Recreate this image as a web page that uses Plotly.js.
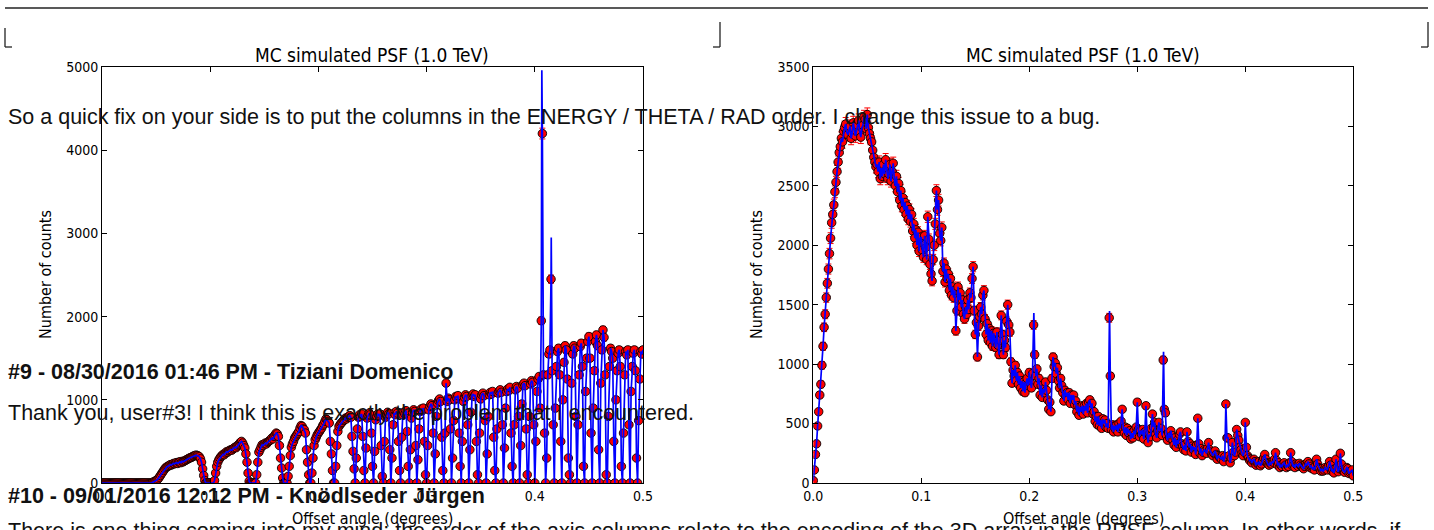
<!DOCTYPE html>
<html>
<head>
<meta charset="utf-8">
<script src="https://cdn.plot.ly/plotly-3.0.1.min.js"></script>
<style>
  html, body { margin: 0; padding: 0; background: #ffffff; }
  #chart { width: 1434px; height: 530px; }
</style>
</head>
<body>
<div id="chart"></div>
<script>
// ---------------- DATA ----------------
// Left panel: counts per offset bin (bin width 0.001 deg, starting at 0)
const LEFT_X0 = 0, LEFT_DX = 0.001;
const leftCounts = [
  0,0,0,0,0,0,0,0,0,0, 0,0,0,0,0,0,0,0,0,0, 0,0,0,0,0,0,0,0,0,0, 0,0,0,0,0,0,0,0,0,0, 0,0,0,0,0,0,0,
  10,15,20,30,40,50,70,90,110,130,
  150,170,185,195,200,210,220,215,225,235,
  230,240,245,235,250,255,245,260,255,265,
  270,280,285,295,300,305,310,320,325,330,
  335,330,325,315,290,250,170,90,30,
  0,0,0,0,0,0,0,0,
  30,120,200,250,280,300,320,330,345,340,
  360,375,370,385,390,400,395,410,420,430,
  425,445,460,470,490,500,480,450,420,350,
  250,120,20,
  0,0,0,0,0,0,
  100,250,370,400,430,460,450,470,480,470,
  490,500,510,520,540,530,560,580,600,590,
  560,450,300,180,60,
  0,0,0,0,
  80,200,330,430,470,500,540,560,580,600,
  620,660,690,680,650,640,600,400,250,100,
  0,
  0,120,300,450,520,550,580,600,620,640,
  660,690,710,740,770,760,740,720,500,350,
  150,0,
  0,200,450,620,680,700,720,730,750,760,
  780,770,790,800,810,790,560,380,170,0,
  300,650,790,820,800,830,560,150,
  0,420,780,810,840,820,600,200,
  0,380,760,800,830,810,830,450,
  80,0,500,790,820,850,830,400,
  0,300,700,840,820,860,840,500,
  150,0,550,820,850,830,870,620,
  200,0,400,780,850,880,860,450,
  0,280,650,860,890,870,900,500,
  100,0,450,880,920,950,930,600,
  0,350,800,960,990,1010,980,550,
  150,0,600,1200,980,1020,1000,650,
  0,300,750,1000,1040,1020,1050,600,
  200,0,500,980,1030,1060,1040,700,
  0,400,850,1050,1070,1040,1060,500,
  100,0,600,1010,1060,1080,1050,750,
  0,350,800,1060,1090,1070,1100,550,
  150,0,650,1080,1100,1120,1090,700,
  0,420,900,1100,1130,1110,1150,600,
  200,0,700,1120,1160,1140,800,
  0,450,950,1180,1200,1170,650,
  100,0,800,1190,1230,1210,700,
  0,500,1100,1250,1280,900,
  1950,4200,1300,600,0,
  300,1300,1550,1600,2450,1350,700,
  0,900,1400,1580,1620,1300,500,
  0,1000,1450,1650,1600,1250,300,
  100,0,1200,1550,1650,1620,800,
  0,700,1300,1640,1680,1400,200,
  0,1100,1500,1700,1760,1500,600,
  0,900,1350,1700,1780,1650,400,
  0,1200,1600,1840,1750,1300,100,
  0,800,1400,1620,1580,1500,500,
  0,1000,1350,1560,1600,1400,200,
  0,600,1300,1580,1540,1600,700,
  0,1100,1400,1560,1600,1350,300,
  0,750,1250,1580,1550,1600
];
// extra points of the blue curve (finer sampling at the spikes)
const leftCurvePeakX = [0.4065, 0.4152];
const leftCurvePeakY = [4960, 2950];

// Right panel: counts per offset bin (bin width 0.001 deg, starting at 0)
const RIGHT_X0 = 0, RIGHT_DX = 0.001;
const rightCounts = [
  20,110,240,330,480,600,740,830,990,1150,
  1310,1420,1560,1680,1800,1930,2060,2190,2260,2340,
  2450,2530,2620,2700,2780,2830,2900,2870,2960,2990,
  3020,2950,2930,2980,3000,2900,2940,3030,2980,2920,
  2960,3010,3050,2950,2910,2990,3010,3080,3060,2980,
  3100,2990,2940,2900,2870,2800,2740,2700,2660,2680,
  2620,2700,2560,2650,2580,2680,2600,2720,2640,2560,
  2600,2680,2540,2620,2690,2560,2500,2580,2450,2520,
  2380,2460,2330,2400,2300,2360,2260,2330,2220,2300,
  2200,2260,2120,2180,2060,2130,2000,2110,1950,2060,
  2070,1960,1900,2080,1980,1880,2240,2050,1840,1760,
  1700,1880,2000,2180,2460,2300,2380,2100,2040,2150,
  1780,1850,1690,1800,1720,1760,1620,1720,1580,1650,
  1560,1620,1280,1450,1650,1540,1600,1480,1540,1420,
  1380,1480,1420,1540,1460,1600,1560,1720,1820,1450,
  1250,1350,1060,1320,1400,1480,1420,1580,1620,1380,
  1250,1340,1200,1300,1180,1280,1150,1260,1190,1140,
  1270,1160,1080,1200,1410,1250,1080,1200,1140,1360,
  1500,1330,1270,1020,840,950,900,990,860,930,
  830,900,800,860,770,850,760,840,880,820,
  930,840,800,920,1330,1080,900,960,830,880,
  740,820,720,790,760,850,780,700,620,680,
  600,880,1060,980,1010,920,970,860,800,880,
  820,760,690,780,730,760,700,760,670,740,
  700,740,660,690,600,650,570,640,600,650,
  580,650,610,670,590,680,700,630,670,580,
  600,520,560,490,560,480,530,460,540,500,
  530,470,500,460,1390,900,450,490,430,480,
  450,490,430,500,460,520,620,460,420,470,
  400,460,420,440,370,420,380,440,410,470,
  680,450,390,440,410,450,370,430,650,420,
  340,410,390,460,580,470,510,410,380,440,
  510,440,460,400,1035,620,590,400,360,420,
  380,440,400,360,320,380,300,360,330,410,
  430,330,310,280,320,270,430,350,300,330,
  260,310,280,300,240,320,545,330,250,290,
  230,260,280,270,250,290,340,280,260,240,
  230,250,270,240,200,230,220,210,200,230,
  180,220,665,380,380,230,170,210,340,260,
  230,260,450,400,360,300,280,250,230,260,
  510,300,230,210,190,200,170,190,200,180,
  150,170,160,180,145,160,190,210,240,200,
  170,160,150,170,160,180,175,200,255,190,
  150,170,130,150,140,160,170,150,130,150,
  140,170,255,180,140,150,130,160,150,140,
  165,150,140,130,120,140,160,150,180,160,
  130,140,120,130,110,140,200,160,130,120,
  100,120,100,110,130,120,110,140,180,150,
  100,110,85,120,200,130,95,120,250,160,
  110,100,90,110,130,120,80,90,100,110,
  60
];
const rightCurvePeakX = [0.2042, 0.2743, 0.3243];
const rightCurvePeakY = [1430, 1446, 1105];

const panelTitle = 'MC simulated PSF (1.0 TeV)';
const xAxisLabel = 'Offset angle (degrees)';
const yAxisLabel = 'Number of counts';
const xTickVals = [0, 0.1, 0.2, 0.3, 0.4, 0.5];

// page text overlaid on the screenshot
const pageLines = [
  {text: 'So a quick fix on your side is to put the columns in the ENERGY / THETA / RAD order. I change this issue to a bug.', bold: false, py: 117},
  {text: '#9 - 08/30/2016 01:46 PM - Tiziani Domenico', bold: true, py: 372},
  {text: 'Thank you, user#3! I think this is exactly the problem that I encountered.', bold: false, py: 413},
  {text: '#10 - 09/01/2016 12:12 PM - Knödlseder Jürgen', bold: true, py: 496},
  {text: 'There is one thing coming into my mind: the order of the axis columns relate to the encoding of the 3D array in the RPSF column. In other words, if', bold: false, py: 531}
];

// ---------------- BUILD ----------------
const W = 1434, H = 530;
const PX = p => p / W;
const PY = p => 1 - p / H;

function binX(counts, x0, dx) { return counts.map((_, i) => +(x0 + i * dx).toFixed(4)); }
function curve(counts, x0, dx, px, py) {
  const pts = counts.map((c, i) => [x0 + i * dx, c]);
  px.forEach((x, j) => pts.push([x, py[j]]));
  pts.sort((a, b) => a[0] - b[0]);
  return {x: pts.map(p => p[0]), y: pts.map(p => p[1])};
}

const markerStyle = {color: '#ff0000', size: 8.5, line: {color: '#000000', width: 0.9}};
const errStyle = {type: 'sqrt', visible: true, color: '#ff0000', thickness: 1, width: 3};

const lc = curve(leftCounts, LEFT_X0, LEFT_DX, leftCurvePeakX, leftCurvePeakY);
const rc = curve(rightCounts, RIGHT_X0, RIGHT_DX, rightCurvePeakX, rightCurvePeakY);

const traces = [
  {type: 'scatter', mode: 'markers', x: binX(leftCounts, LEFT_X0, LEFT_DX), y: leftCounts,
   marker: markerStyle, error_y: errStyle, xaxis: 'x', yaxis: 'y', hoverinfo: 'skip'},
  {type: 'scatter', mode: 'lines', x: lc.x, y: lc.y,
   line: {color: '#0000ff', width: 1.7}, xaxis: 'x', yaxis: 'y', hoverinfo: 'skip'},
  {type: 'scatter', mode: 'markers', x: binX(rightCounts, RIGHT_X0, RIGHT_DX), y: rightCounts,
   marker: markerStyle, error_y: errStyle, xaxis: 'x2', yaxis: 'y2', hoverinfo: 'skip'},
  {type: 'scatter', mode: 'lines', x: rc.x, y: rc.y,
   line: {color: '#0000ff', width: 1.7}, xaxis: 'x2', yaxis: 'y2', hoverinfo: 'skip'}
];

const MPL_FONT = 'DejaVu Sans Condensed, DejaVu Sans, sans-serif';
const PAGE_FONT = 'Liberation Sans, Arial, sans-serif';

const axisBase = {
  showline: true, linecolor: '#000000', linewidth: 1, mirror: 'ticks',
  ticks: 'inside', ticklen: 5, tickwidth: 1, tickcolor: '#000000',
  showgrid: false, zeroline: false,
  tickfont: {family: MPL_FONT, size: 14, color: '#000000'}
};

const leftDom = [PX(102), PX(643)];
const rightDom = [PX(813.3), PX(1353.3)];
const yDom = [PY(483), PY(67)];

const layout = {
  width: W, height: H,
  margin: {l: 0, r: 0, t: 0, b: 0, pad: 0},
  paper_bgcolor: '#ffffff', plot_bgcolor: '#ffffff',
  showlegend: false,
  xaxis: Object.assign({}, axisBase, {domain: leftDom, range: [0, 0.5], tickvals: xTickVals, tickformat: '.1f', anchor: 'y'}),
  yaxis: Object.assign({}, axisBase, {domain: yDom, range: [0, 5000], dtick: 1000, anchor: 'x'}),
  xaxis2: Object.assign({}, axisBase, {domain: rightDom, range: [0, 0.5], tickvals: xTickVals, tickformat: '.1f', anchor: 'y2'}),
  yaxis2: Object.assign({}, axisBase, {domain: yDom, range: [0, 3500], dtick: 500, anchor: 'x2'}),
  annotations: [],
  shapes: []
};

// panel titles and axis titles
[[leftDom, 45], [rightDom, 756]].forEach(([dom, yLabX]) => {
  const cx = (dom[0] + dom[1]) / 2;
  layout.annotations.push({xref: 'paper', yref: 'paper', x: cx, y: PY(55), xanchor: 'center', yanchor: 'middle',
    text: panelTitle, showarrow: false, font: {family: MPL_FONT, size: 19, color: '#000000'}});
  layout.annotations.push({xref: 'paper', yref: 'paper', x: cx, y: PY(518), xanchor: 'center', yanchor: 'middle',
    text: xAxisLabel, showarrow: false, font: {family: MPL_FONT, size: 16, color: '#000000'}});
  layout.annotations.push({xref: 'paper', yref: 'paper', x: PX(yLabX), y: PY(275), xanchor: 'center', yanchor: 'middle',
    text: yAxisLabel, textangle: -90, showarrow: false, font: {family: MPL_FONT, size: 16, color: '#000000'}});
});

// overlaid page text
pageLines.forEach(l => {
  layout.annotations.push({xref: 'paper', yref: 'paper', x: PX(6), y: PY(l.py), xanchor: 'left', yanchor: 'middle',
    text: l.bold ? '<b>' + l.text + '</b>' : l.text, showarrow: false,
    font: {family: PAGE_FONT, size: 21.5, color: '#111111'}});
});

// page border fragments
const borderColor = '#222222';
function seg(x0, y0, x1, y1) {
  layout.shapes.push({type: 'line', xref: 'paper', yref: 'paper', x0: PX(x0), y0: PY(y0), x1: PX(x1), y1: PY(y1),
    line: {color: borderColor, width: 1.3}});
}
seg(5, 8, 1428, 8);
seg(5, 28, 5, 47); seg(5, 47, 12, 47);
seg(720, 22, 720, 47); seg(713, 47, 720, 47);
seg(1428, 22, 1428, 47); seg(1421, 47, 1428, 47);

Plotly.newPlot('chart', traces, layout, {staticPlot: true, displayModeBar: false});
</script>
</body>
</html>
